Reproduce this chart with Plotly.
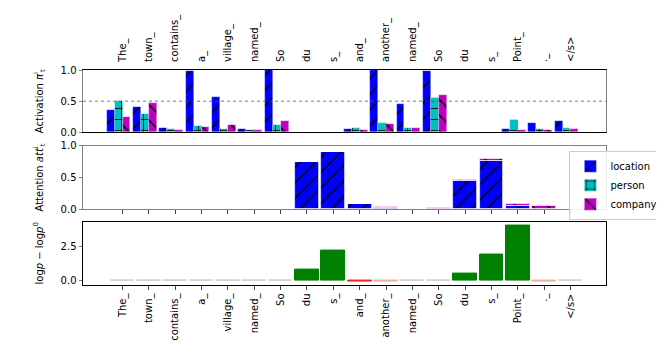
"""Entity activation / attention / log-prob gain per token, three stacked panels."""

import html

import plotly.graph_objects as go

tokens = ["The_", "town_", "contains_", "a_", "village_", "named_", "So", "du", "s_",
          "and_", "another_", "named_", "So", "du", "s_", "Point_", "._", "</s>"]

# activation pi_t^i
act_location = [0.36, 0.41, 0.07, 0.99, 0.57, 0.05, 1.00, 0.0, 0.0,
                0.05, 1.00, 0.46, 0.99, 0.0, 0.0, 0.05, 0.15, 0.19]
act_person = [0.50, 0.29, 0.055, 0.10, 0.055, 0.03, 0.12, 0.0, 0.0,
              0.07, 0.15, 0.07, 0.55, 0.0, 0.0, 0.20, 0.055, 0.07]
act_company = [0.25, 0.47, 0.04, 0.09, 0.12, 0.03, 0.19, 0.0, 0.0,
               0.04, 0.13, 0.07, 0.60, 0.0, 0.0, 0.04, 0.03, 0.055]

# attention att_t^i
att_location = [0.003, 0.003, 0.003, 0.004, 0.004, 0.003, 0.004, 0.74, 0.90,
                0.077, 0.02, 0.006, 0.005, 0.445, 0.755, 0.045, 0.01, 0.0]
att_person = [0.0, 0.0, 0.0, 0.0, 0.0, 0.0, 0.0, 0.0, 0.0,
              0.0, 0.0, 0.0, 0.0, 0.005, 0.0, 0.0, 0.0, 0.0]
att_company = [0.001, 0.001, 0.001, 0.001, 0.001, 0.001, 0.001, 0.01, 0.0,
               0.0, 0.012, 0.004, 0.015, 0.01, 0.045, 0.035, 0.035, 0.0]

# log p - log p^0
logp_gain = [-0.01, -0.01, -0.01, -0.01, -0.01, -0.01, -0.01, 0.82, 2.2,
             -0.06, -0.04, -0.01, -0.01, 0.52, 1.86, 4.0, -0.04, -0.01]

xs = list(range(len(tokens)))
tick_text = [html.escape(t) for t in tokens]
xrange_ = [-1.5, 18.35]
FONT = "DejaVu Sans, sans-serif"

colors = {"location": "#0000ff", "person": "#00bfbf", "company": "#bf00bf"}
shapes = {"location": "/", "person": "+", "company": "\\"}


def gain_color(v):
    if v >= 0.1:
        return "#008000"
    if v <= -0.05:
        return "#ff2020"
    if v <= -0.03:
        return "#f4aca4"
    return "#dcc6ba"


def hatch(name):
    return dict(shape=shapes[name], fgcolor="black", fgopacity=1,
                size=11, solidity=0.14)


fig = go.Figure()

# top panel: grouped bars with hatches
for i, (name, vals) in enumerate([("location", act_location),
                                  ("person", act_person),
                                  ("company", act_company)]):
    fig.add_trace(go.Bar(
        x=xs, y=vals, width=0.3, offset=-0.6 + 0.3 * i,
        name=name, legendgroup=name, showlegend=True,
        marker=dict(color=colors[name],
                    line=dict(color="rgba(255,255,255,0.45)", width=0.6),
                    pattern=hatch(name)),
        xaxis="x", yaxis="y",
    ))

# middle panel: stacked attention
base_person = [a for a in att_location]
base_company = [a + b for a, b in zip(att_location, att_person)]
for name, vals, base in [("location", att_location, None),
                         ("person", att_person, base_person),
                         ("company", att_company, base_company)]:
    fig.add_trace(go.Bar(
        x=xs, y=vals, base=base, width=0.9, offset=-0.45,
        name=name, legendgroup=name, showlegend=False,
        marker=dict(color=colors[name],
                    line=dict(color="rgba(255,255,255,0.8)", width=0.8),
                    pattern=hatch(name)),
        xaxis="x2", yaxis="y2",
    ))

# bottom panel: log-prob gain
fig.add_trace(go.Bar(
    x=xs, y=logp_gain, width=0.9, offset=-0.45, showlegend=False,
    marker=dict(color=[gain_color(v) for v in logp_gain],
                line=dict(color=[gain_color(v) for v in logp_gain], width=1)),
    xaxis="x3", yaxis="y3",
))

tick_font = dict(family=FONT, size=10, color="black")
common_x = dict(range=xrange_, tickvals=xs, ticktext=tick_text, showgrid=False,
                zeroline=False, showline=True, mirror=True, linewidth=1,
                automargin=False)
common_y = dict(showgrid=False, zeroline=False, showline=True, mirror=True,
                linewidth=1, ticks="outside", ticklen=3.5, tickwidth=1,
                tickfont=tick_font, linecolor="#808080", tickcolor="#808080",
                automargin=False)

# page body keeps an 8px margin, so the figure is 8px smaller than the window
fig.update_layout(
    width=656, height=339, autosize=False,
    margin=dict(l=75, r=58, t=62, b=62, autoexpand=False),
    paper_bgcolor="white", plot_bgcolor="white",
    barmode="overlay", bargap=0,
    font=dict(family=FONT, size=10, color="black"),
    xaxis=dict(**common_x, side="top", tickangle=-90, ticks="",
               ticklabelstandoff=5, tickfont=tick_font, linecolor="black",
               anchor="y"),
    xaxis2=dict(**common_x, showticklabels=False, ticks="outside", ticklen=3.5,
                tickcolor="#444", linecolor="#808080", anchor="y2"),
    yaxis=dict(**common_y, domain=[0.710, 1.0], range=[0, 1.0],
               tickvals=[0, 0.5, 1.0], ticktext=["0.0", "0.5", "1.0"],
               title=dict(text="Activation <i>π</i><sup>i</sup><sub>t</sub>",
                          font=dict(size=10))),
    yaxis2=dict(**common_y, domain=[0.353, 0.647], range=[0, 1.0],
                tickvals=[0, 0.5, 1.0], ticktext=["0.0", "0.5", "1.0"],
                title=dict(text="Attention <i>att</i><sup>i</sup><sub>t</sub>",
                           font=dict(size=10))),
    xaxis3=dict(**common_x, tickangle=-90, ticks="outside", ticklen=3.5,
                tickcolor="#444", tickfont=tick_font, linecolor="black",
                anchor="y3"),
    yaxis3=dict(**{**common_y, "linecolor": "black"}, domain=[0.0, 0.295],
                range=[-0.3, 4.26], tickvals=[0, 2.5], ticktext=["0.0", "2.5"],
                title=dict(text="log<i>p</i> − log<i>p</i><sup>0</sup>",
                           font=dict(size=10))),
    legend=dict(x=0.93, y=0.625, xanchor="left", yanchor="top",
                bgcolor="rgba(255,255,255,0.85)", bordercolor="#cccccc",
                borderwidth=1, font=dict(size=10), tracegroupgap=0,
                itemwidth=30),
)

fig.add_shape(type="line", xref="x domain", yref="y", x0=0, x1=1, y0=0.5, y1=0.5,
              line=dict(color="#555555", width=0.8, dash="dot"))

fig.write_html("out.html")
